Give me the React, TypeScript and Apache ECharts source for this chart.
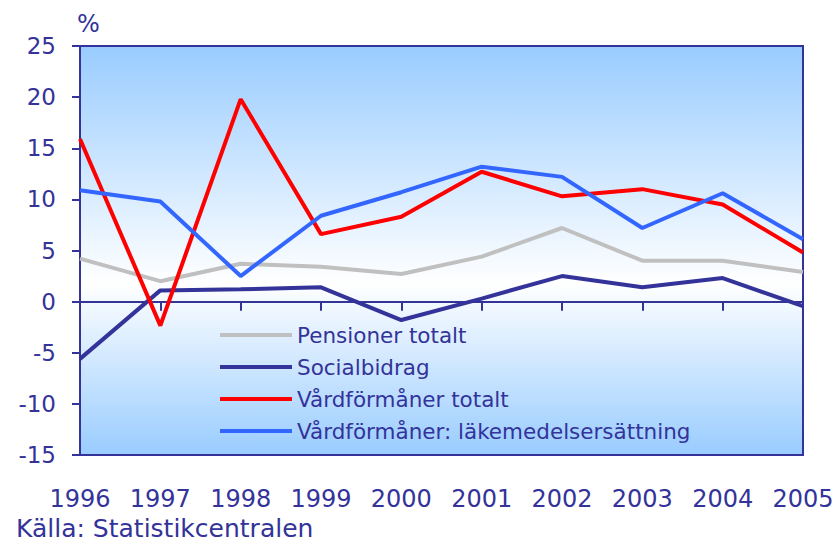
import React, { useEffect, useRef } from "react";
import * as echarts from "echarts";

const years = ["1996", "1997", "1998", "1999", "2000", "2001", "2002", "2003", "2004", "2005"];
const pensioner = [4.2, 2.0, 3.7, 3.4, 2.7, 4.4, 7.2, 4.0, 4.0, 2.9];
const socialbidrag = [-5.6, 1.1, 1.2, 1.4, -1.8, 0.3, 2.5, 1.4, 2.3, -0.45];
const vardTotalt = [15.9, -2.35, 19.8, 6.6, 8.3, 12.7, 10.3, 11.0, 9.5, 4.8];
const vardLakemedel = [10.9, 9.8, 2.5, 8.4, 10.7, 13.2, 12.2, 7.2, 10.6, 6.1];
const seriesNames = [
  "Pensioner totalt",
  "Socialbidrag",
  "Vårdförmåner totalt",
  "Vårdförmåner: läkemedelsersättning",
];
const yTicks = { min: -15, max: 25, interval: 5 };

const AXIS = "#333399";
const FONT = "DejaVu Sans";

export default function App() {
  const ref = useRef<HTMLDivElement>(null);
  useEffect(() => {
    if (!ref.current) return;
    const chart = echarts.init(ref.current, undefined, { renderer: "svg" });
    const mk = (name: string, data: number[], color: string) => ({
      name,
      type: "line",
      data,
      xAxisIndex: 0,
      symbol: "none",
      lineStyle: { color, width: 4 },
      itemStyle: { color },
      z: 3,
    });
    chart.setOption({
      animation: false,
      backgroundColor: "#ffffff",
      grid: {
        left: 80,
        top: 46,
        right: 34,
        bottom: 89,
        show: true,
        borderColor: AXIS,
        borderWidth: 2,
        backgroundColor: new echarts.graphic.LinearGradient(0, 0, 0, 1, [
          { offset: 0, color: "#99CCFF" },
          { offset: 0.58, color: "#FFFFFF" },
          { offset: 1, color: "#99CCFF" },
        ]),
      },
      legend: {
        orient: "vertical",
        left: 220,
        top: 324,
        padding: 0,
        itemWidth: 72,
        itemHeight: 4,
        itemGap: 10,
        icon: "rect",
        data: seriesNames,
        textStyle: { color: AXIS, fontSize: 21.5, fontFamily: FONT, lineHeight: 22 },
      },
      xAxis: [
        {
          type: "category",
          data: years,
          boundaryGap: false,
          position: "bottom",
          axisLine: { show: false, onZero: false },
          axisTick: { show: false },
          axisLabel: { color: AXIS, fontSize: 24, fontFamily: FONT, margin: 32 },
          splitLine: { show: false },
        },
        {
          type: "category",
          data: years,
          boundaryGap: false,
          position: "bottom",
          axisLine: { show: true, onZero: true, lineStyle: { color: AXIS, width: 2 } },
          axisTick: { show: true, length: 9, lineStyle: { color: AXIS, width: 2 } },
          axisLabel: { show: false },
          splitLine: { show: false },
        },
      ],
      yAxis: {
        type: "value",
        min: yTicks.min,
        max: yTicks.max,
        interval: yTicks.interval,
        axisLine: { show: true, lineStyle: { color: AXIS, width: 2 } },
        axisTick: { show: true, length: 8, lineStyle: { color: AXIS, width: 2 } },
        axisLabel: { color: AXIS, fontSize: 23, fontFamily: FONT, margin: 24 },
        splitLine: { show: false },
      },
      graphic: [
        {
          type: "text",
          left: 77,
          top: 12,
          style: { text: "%", fill: AXIS, font: `24px '${FONT}'` },
        },
        {
          type: "text",
          left: 16,
          top: 516,
          style: { text: "Källa: Statistikcentralen", fill: AXIS, font: `25px '${FONT}'` },
        },
      ],
      series: [
        mk(seriesNames[0], pensioner, "#C0C0C0"),
        mk(seriesNames[1], socialbidrag, "#333399"),
        mk(seriesNames[2], vardTotalt, "#FF0000"),
        mk(seriesNames[3], vardLakemedel, "#3366FF"),
      ],
    });
    return () => chart.dispose();
  }, []);
  return (
    <div
      ref={ref}
      style={{ position: "fixed", left: 0, top: 0, width: 837, height: 544 }}
    />
  );
}
